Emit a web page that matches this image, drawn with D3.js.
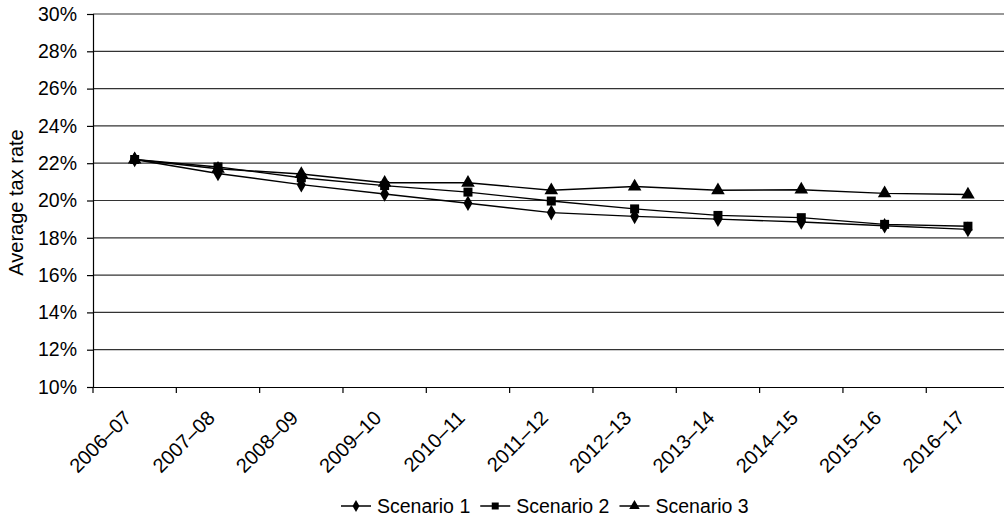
<!DOCTYPE html>
<html><head><meta charset="utf-8">
<script src="https://cdn.jsdelivr.net/npm/d3@7"></script>
<style>body{margin:0;background:#fff;} svg{display:block;} text{font-family:"Liberation Sans",Arial,sans-serif;}</style>
</head><body>
<svg id="c" width="1004" height="522"></svg>
<script>
const categories = ["2006–07","2007–08","2008–09","2009–10","2010–11","2011–12","2012–13","2013–14","2014–15","2015–16","2016–17"];
const scenario1 = [22.2, 21.45, 20.85, 20.35, 19.85, 19.35, 19.15, 19.0, 18.85, 18.65, 18.45];
const scenario2 = [22.2, 21.8, 21.22, 20.8, 20.45, 19.97, 19.55, 19.2, 19.08, 18.72, 18.62];
const scenario3 = [22.2, 21.7, 21.42, 20.95, 20.95, 20.55, 20.75, 20.55, 20.58, 20.38, 20.32];
const seriesNames = ["Scenario 1","Scenario 2","Scenario 3"];
const yTicks = [10,12,14,16,18,20,22,24,26,28,30];

(function(){
const svg = d3.select("#c");
const FS = 19.5;
const mLeft = 93, mRight = 1009.6, mTop = 14, mBottom = 387;
const x = d3.scaleBand().domain(categories).range([mLeft, mRight]);
const y = d3.scaleLinear().domain([10,30]).range([mBottom, mTop]);

svg.append("g").selectAll("line").data(yTicks.filter(d=>d>10)).join("line")
  .attr("x1", mLeft).attr("x2", mRight).attr("y1", d=>y(d)).attr("y2", d=>y(d))
  .attr("stroke", "#333").attr("stroke-width", 1.2);

const ya = svg.append("g").attr("transform", `translate(${mLeft},0)`)
  .call(d3.axisLeft(y).tickValues(yTicks).tickFormat(d=>d+"%").tickSize(6).tickPadding(10));
ya.select(".domain").attr("stroke","#000").attr("stroke-width",1.2);
ya.selectAll("line").attr("stroke","#000").attr("stroke-width",1.2);
ya.selectAll("text").attr("font-size", FS).attr("fill","#000").style("font-family","'Liberation Sans',Arial,sans-serif");

const xa = svg.append("g").attr("transform", `translate(0,${mBottom})`)
  .call(d3.axisBottom(x).tickSize(0).tickFormat(""));
xa.select(".domain").attr("stroke","#000").attr("stroke-width",1.2);
const bounds = categories.map(c=>x(c)).concat([mRight]);
svg.append("g").selectAll("line").data(bounds).join("line")
  .attr("x1", d=>d).attr("x2", d=>d).attr("y1", mBottom).attr("y2", mBottom+6)
  .attr("stroke","#000").attr("stroke-width",1.2);
svg.append("g").selectAll("text").data(categories).join("text")
  .attr("transform", d=>`translate(${x(d)+x.bandwidth()/2-12},${mBottom+22}) rotate(-45)`)
  .attr("text-anchor","end").attr("dy","0.71em").attr("font-size",20).attr("fill","#000")
  .text(d=>d);

svg.append("text").attr("transform", `translate(23,${(mTop+mBottom)/2 + 2}) rotate(-90)`)
  .attr("text-anchor","middle").attr("font-size",20).attr("fill","#000").text("Average tax rate");

const series = [scenario1, scenario2, scenario3];
const shapes = [d3.symbolDiamond, d3.symbolSquare, d3.symbolTriangle];
const sizes = [70, 81, 80];
const line = d3.line().x((d,i)=>x(categories[i])+x.bandwidth()/2).y(d=>y(d));
series.forEach((s,k)=>{
  svg.append("path").datum(s).attr("d", line).attr("fill","none").attr("stroke","#000").attr("stroke-width",1.4);
  svg.append("g").selectAll("path").data(s).join("path")
    .attr("transform",(d,i)=>`translate(${x(categories[i])+x.bandwidth()/2},${y(d)})`)
    .attr("d", d3.symbol().type(shapes[k]).size(sizes[k])).attr("fill","#000");
});

let lx = 341;
seriesNames.forEach((n,k)=>{
  const g = svg.append("g").attr("transform", `translate(${lx},506)`);
  g.append("line").attr("x1",0).attr("x2",30).attr("stroke","#000").attr("stroke-width",1.5);
  g.append("path").attr("transform","translate(15,0)").attr("d", d3.symbol().type(shapes[k]).size(sizes[k]*0.6)).attr("fill","#000");
  const t = g.append("text").attr("x",36).attr("y",7).attr("font-size",FS).attr("fill","#000").text(n);
  lx += 36 + t.node().getComputedTextLength() + 10;
});
})();
</script>
</body></html>
